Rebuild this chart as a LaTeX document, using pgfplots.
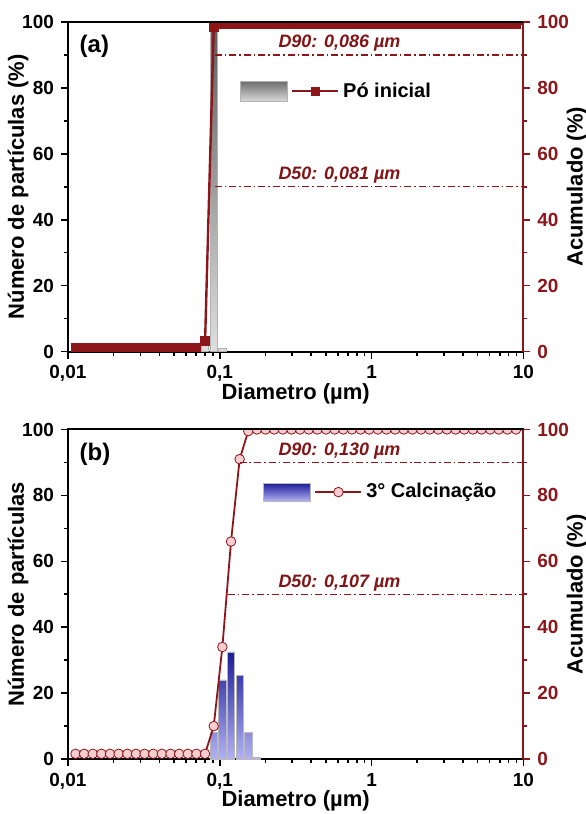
\documentclass[border=0pt]{standalone}
\usepackage{pgfplots}
\pgfplotsset{compat=1.18}
\usepackage{pgfplotstable}
\usepackage{fontspec}
\setmainfont{Liberation Sans}
\definecolor{dred}{RGB}{140,22,26}
\definecolor{dredtxt}{RGB}{128,20,22}
\definecolor{pinkfill}{RGB}{246,205,208}
\definecolor{navy}{RGB}{28,28,150}
\definecolor{lav}{RGB}{178,178,246}

\pgfplotstableread{
x y
0.01122 1.1
0.01279 1.1
0.01458 1.1
0.01662 1.1
0.01895 1.1
0.02160 1.1
0.02463 1.1
0.02808 1.1
0.03201 1.1
0.03649 1.1
0.04159 1.1
0.04742 1.1
0.05406 1.1
0.06163 1.1
0.07025 1.1
0.08009 3.2
0.0913 98.5
0.1041 99.4
0.1187 99.4
0.1353 99.4
0.1542 99.4
0.1758 99.4
0.2004 99.4
0.2285 99.4
0.2604 99.4
0.2969 99.4
0.3385 99.4
0.3859 99.4
0.4399 99.4
0.5015 99.4
0.5717 99.4
0.6517 99.4
0.7429 99.4
0.8469 99.4
0.9655 99.4
1.1007 99.4
1.2548 99.4
1.4305 99.4
1.6307 99.4
1.8590 99.4
2.1193 99.4
2.4160 99.4
2.7542 99.4
3.1398 99.4
3.5793 99.4
4.0805 99.4
4.6517 99.4
5.3030 99.4
6.0454 99.4
6.8918 99.4
7.8566 99.4
8.9565 99.4
10.21 99.4
}\cumA

\pgfplotstableread{
x y
0.01122 1.6
0.01279 1.6
0.01458 1.6
0.01662 1.6
0.01895 1.6
0.02160 1.6
0.02463 1.6
0.02808 1.6
0.03201 1.6
0.03649 1.6
0.04159 1.6
0.04742 1.6
0.05406 1.6
0.06163 1.6
0.07025 1.6
0.08009 1.6
0.0913 10
0.1041 34
0.1187 66
0.1353 91
0.1542 99.5
0.1758 100
0.2004 100
0.2285 100
0.2604 100
0.2969 100
0.3385 100
0.3859 100
0.4399 100
0.5015 100
0.5717 100
0.6517 100
0.7429 100
0.8469 100
0.9655 100
1.1007 100
1.2548 100
1.4305 100
1.6307 100
1.8590 100
2.1193 100
2.4160 100
2.7542 100
3.1398 100
3.5793 100
4.0805 100
4.6517 100
5.3030 100
6.0454 100
6.8918 100
7.8566 100
8.9565 100
10.21 100
}\cumB

\pgfplotstableread{
x y
0.08009 2.5
0.0913 97.5
0.1041 1
}\barA

\pgfplotstableread{
x y
0.0913 8
0.1041 24
0.1187 32.5
0.1353 25.5
0.1542 8
0.1758 0.5
}\barB

\tikzset{myDtext/.style={anchor=south, text=dredtxt, inner sep=1.5pt, font=\bfseries\itshape\fontsize{9}{11}\selectfont},
  myDline/.style={dred, line width=0.6pt, dash pattern=on 3.5pt off 1.5pt on 0.8pt off 1.5pt}}

\begin{document}
\begin{tikzpicture}
% ---------- panel (a) ----------
\begin{axis}[name=a, at={(0,0)}, anchor=south west,
  width=228pt, height=165pt, scale only axis,
  xmode=log, xmin=0.01, xmax=10, ymin=0, ymax=100,
  /pgf/number format/assume math mode=true,
  tick align=outside, major tick length=3.5pt, minor tick length=2pt,
  tick label style={font=\bfseries\fontsize{9.5}{11}\selectfont},
  label style={font=\bfseries\fontsize{11}{13}\selectfont},
  ytick={0,20,40,60,80,100}, minor ytick={10,30,50,70,90},
  xtick={0.01,0.1,1,10}, xticklabels={{0,01},{0,1},1,10},
  minor xtick={0.02,0.03,0.04,0.05,0.06,0.07,0.08,0.09,0.2,0.3,0.4,0.5,0.6,0.7,0.8,0.9,2,3,4,5,6,7,8,9},
  tick pos=left, axis line style={line width=1pt},
  tick style={black, line width=0.8pt},
  xlabel={Diametro (µm)}, xlabel style={yshift=6pt},
  ylabel={Número de partículas (\%)}, ylabel style={yshift=-10pt}]
\addplot[ybar, bar width=3.6pt, draw=gray!60, line width=0.3pt,
  top color=gray!75!black, bottom color=gray!25] table {\barA};
\node[anchor=north west, font=\bfseries\fontsize{12}{14}\selectfont, inner sep=0pt]
  at (rel axis cs:0.025,0.96) {(a)};
\end{axis}
\begin{axis}[at={(0,0)}, anchor=south west,
  width=228pt, height=165pt, scale only axis,
  xmode=log, xmin=0.01, xmax=10, ymin=0, ymax=100,
  /pgf/number format/assume math mode=true,
  tick align=outside, major tick length=3.5pt, minor tick length=2pt,
  tick label style={font=\bfseries\fontsize{9.5}{11}\selectfont},
  label style={font=\bfseries\fontsize{11}{13}\selectfont},
  ytick={0,20,40,60,80,100}, minor ytick={10,30,50,70,90},
  clip marker paths=true, clip mode=individual,
  axis y line*=right, axis x line=none,
  y axis line style={dred, line width=1pt},
  tick style={dred, line width=0.8pt},
  yticklabel style={dred},
  ylabel={Acumulado (\%)}, ylabel style={yshift=8pt},
  legend cell align=left,
  legend style={draw=none, fill=none, inner sep=0pt,
    font=\bfseries\fontsize{10}{12}\selectfont,
    at={(0.377,0.79)}, anchor=west}]
\addlegendimage{legend image code/.code={
  \shade[top color=gray!85!black, bottom color=gray!30, draw=gray!60, line width=0.3pt]
    (0pt,-5pt) rectangle (23.5pt,5pt);
  \draw[dred, line width=1pt] (26pt,0pt) -- (49pt,0pt);
  \fill[dred] (35.6pt,-1.9pt) rectangle (39.4pt,1.9pt);
}}
\addlegendentry{Pó inicial}
\addplot[dred, line width=1.2pt, mark=square*, mark size=1.9pt, forget plot] table {\cumA};
\addplot[myDline, forget plot] coordinates {(0.0927,90) (10,90)};
\addplot[myDline, forget plot] coordinates {(0.0927,50) (10,50)};
\node[myDtext] at (axis cs:0.615,90) {D90: 0,086 µm};
\node[myDtext] at (axis cs:0.615,50) {D50: 0,081 µm};
\draw[black, line width=1pt] (rel axis cs:0,1) -- (rel axis cs:1,1);
\end{axis}

% ---------- panel (b) ----------
\begin{axis}[name=b, at={(0,-204pt)}, anchor=south west,
  width=228pt, height=165pt, scale only axis,
  xmode=log, xmin=0.01, xmax=10, ymin=0, ymax=100,
  /pgf/number format/assume math mode=true,
  tick align=outside, major tick length=3.5pt, minor tick length=2pt,
  tick label style={font=\bfseries\fontsize{9.5}{11}\selectfont},
  label style={font=\bfseries\fontsize{11}{13}\selectfont},
  ytick={0,20,40,60,80,100}, minor ytick={10,30,50,70,90},
  xtick={0.01,0.1,1,10}, xticklabels={{0,01},{0,1},1,10},
  minor xtick={0.02,0.03,0.04,0.05,0.06,0.07,0.08,0.09,0.2,0.3,0.4,0.5,0.6,0.7,0.8,0.9,2,3,4,5,6,7,8,9},
  tick pos=left, axis line style={line width=1pt},
  tick style={black, line width=0.8pt},
  xlabel={Diametro (µm)}, xlabel style={yshift=6pt},
  ylabel={Número de partículas}, ylabel style={yshift=-10pt}]
\addplot[ybar, bar width=3.6pt, draw=gray!55, line width=0.3pt,
  top color=navy, bottom color=lav] table {\barB};
\node[anchor=north west, font=\bfseries\fontsize{12}{14}\selectfont, inner sep=0pt]
  at (rel axis cs:0.025,0.96) {(b)};
\end{axis}
\begin{axis}[at={(0,-204pt)}, anchor=south west,
  width=228pt, height=165pt, scale only axis,
  xmode=log, xmin=0.01, xmax=10, ymin=0, ymax=100,
  /pgf/number format/assume math mode=true,
  tick align=outside, major tick length=3.5pt, minor tick length=2pt,
  tick label style={font=\bfseries\fontsize{9.5}{11}\selectfont},
  label style={font=\bfseries\fontsize{11}{13}\selectfont},
  ytick={0,20,40,60,80,100}, minor ytick={10,30,50,70,90},
  clip marker paths=true, clip mode=individual,
  axis y line*=right, axis x line=none,
  y axis line style={dred, line width=1pt},
  tick style={dred, line width=0.8pt},
  yticklabel style={dred},
  ylabel={Acumulado (\%)}, ylabel style={yshift=8pt},
  legend cell align=left,
  legend style={draw=none, fill=none, inner sep=0pt,
    font=\bfseries\fontsize{10}{12}\selectfont,
    at={(0.428,0.81)}, anchor=west}]
\addlegendimage{legend image code/.code={
  \shade[top color=navy, bottom color=lav, draw=gray!55, line width=0.3pt]
    (0pt,-4.5pt) rectangle (23.5pt,4.5pt);
  \draw[dred, line width=0.9pt] (26pt,0pt) -- (49pt,0pt);
  \filldraw[fill=pinkfill, draw=dred, line width=0.4pt] (37.5pt,0pt) circle (2.4pt);
}}
\addlegendentry{3° Calcinação}
\addplot[dred, line width=0.9pt, mark=*, mark size=2.4pt,
  mark options={fill=pinkfill, draw=dred, line width=0.4pt}, forget plot] table {\cumB};
\addplot[myDline, forget plot] coordinates {(0.135,90) (10,90)};
\addplot[myDline, forget plot] coordinates {(0.113,50) (10,50)};
\node[myDtext] at (axis cs:0.615,90) {D90: 0,130 µm};
\node[myDtext] at (axis cs:0.615,50) {D50: 0,107 µm};
\draw[black, line width=1pt] (rel axis cs:0,1) -- (rel axis cs:1,1);
\end{axis}

\pgfresetboundingbox
\path ([xshift=-34pt,yshift=11pt]a.north west) rectangle ([xshift=31pt,yshift=-27.5pt]b.south east);
\end{tikzpicture}
\end{document}
